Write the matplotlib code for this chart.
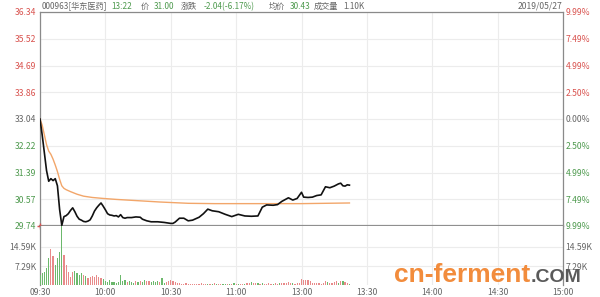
import matplotlib
matplotlib.use("Agg")
import matplotlib.pyplot as plt

plt.rcParams['font.family'] = ['Noto Sans CJK SC', 'DejaVu Sans']

# ---------------- data ----------------
time_ticks = [0, 30, 60, 90, 120, 150, 180, 210, 240]
time_labels = ["09:30", "10:00", "10:30", "11:00", "13:00", "13:30", "14:00", "14:30", "15:00"]

price_ticks = [36.34, 35.52, 34.69, 33.86, 33.04, 32.22, 31.39, 30.57, 29.74]
pct_labels = ["9.99%", "7.49%", "4.99%", "2.50%", "0.00%", "2.50%", "4.99%", "7.49%", "9.99%"]
prev_close = 33.04

vol_ticks = [7.29, 14.59]
vol_tick_labels = ["7.29K", "14.59K"]

price_min = [0, 1, 2, 3, 4, 5, 6, 7, 8, 9, 10, 11, 12, 13, 14, 15, 16, 17, 18, 19,
             20, 21, 22, 23, 24, 25, 26, 27, 28, 29, 30, 31, 32, 33, 34, 35, 36, 37,
             38, 39, 40, 42, 44, 46, 47, 49, 51, 54, 57, 60, 61, 62, 64, 66, 68, 70,
             73, 75, 77, 79, 82, 85, 88, 91, 94, 97, 100, 102, 104, 107, 109, 111,
             114, 116, 118, 120, 121, 123, 125, 127, 129, 131, 133, 135, 137, 138,
             139, 140, 141, 142]
price_val = [33.04, 32.55, 32.00, 31.45, 31.12, 31.20, 31.14, 31.20, 30.98, 30.25,
             29.76, 30.03, 30.06, 30.12, 30.22, 30.30, 30.18, 30.04, 29.95, 29.92,
             29.88, 29.87, 29.89, 29.93, 30.05, 30.20, 30.30, 30.38, 30.45, 30.35,
             30.24, 30.12, 30.08, 30.07, 30.05, 30.06, 30.02, 30.09, 30.00, 29.98,
             30.00, 30.00, 30.02, 30.01, 29.95, 29.90, 29.87, 29.87, 29.85, 29.82,
             29.82, 29.86, 29.98, 29.98, 29.90, 29.92, 30.01, 30.12, 30.26, 30.21,
             30.18, 30.10, 30.03, 30.10, 30.05, 30.04, 30.05, 30.32, 30.39, 30.38,
             30.40, 30.50, 30.61, 30.54, 30.59, 30.78, 30.63, 30.62, 30.63, 30.68,
             30.70, 30.95, 30.92, 30.97, 31.04, 31.06, 30.98, 30.97, 31.01, 31.00]

avg_min = [0, 1, 2, 3, 4, 5, 6, 7, 8, 9, 10, 11, 12, 14, 17, 20, 24, 29, 35, 45,
           55, 68, 80, 100, 120, 142]
avg_val = [33.04, 32.85, 32.55, 32.25, 32.05, 31.95, 31.80, 31.62, 31.42, 31.18,
           30.98, 30.90, 30.86, 30.80, 30.72, 30.66, 30.62, 30.59, 30.56, 30.52,
           30.48, 30.44, 30.43, 30.43, 30.43, 30.45]

# volume per minute (K), minutes 0..142
volume = [4.0, 4.5, 5.0, 6.4, 10.2, 13.8, 11.3, 7.7, 10.2, 12.8,
          25.0, 11.5, 7.7, 5.1, 3.2, 5.1, 5.4, 4.5, 3.8, 4.5,
          4.0, 3.6, 2.8, 3.2, 3.6, 3.2, 3.8, 3.2, 2.6, 2.2,
          1.5, 1.3, 1.9, 1.2, 1.3, 0.8, 1.0, 3.8, 1.5, 1.8,
          1.0, 1.6, 1.2, 0.8, 1.4, 1.0, 1.5, 1.2, 1.8, 1.5,
          1.7, 1.2, 1.6, 1.0, 1.4, 1.0, 2.5, 0.8, 1.2, 1.6,
          1.8, 1.5, 1.0, 0.7, 0.6, 0.5, 0.4, 0.6, 0.4, 0.3,
          0.4, 0.5, 0.3, 0.4, 0.6, 0.3, 0.4, 0.5, 0.3, 0.4,
          0.6, 0.4, 0.3, 0.5, 0.4, 0.3, 0.5, 0.4, 0.3, 0.6,
          0.5, 0.4, 0.3, 0.5, 0.4, 0.6, 0.8, 1.0, 0.7, 0.8,
          0.6, 0.5, 0.7, 0.4, 0.5, 0.6, 0.4, 0.5, 0.6, 0.5,
          0.8, 0.6, 0.7, 0.9, 1.0, 0.8, 0.6, 0.5, 0.7, 0.6,
          2.2, 2.0, 2.0, 1.8, 1.5, 0.7, 0.6, 0.8, 0.6, 0.5,
          0.7, 1.4, 1.2, 0.6, 0.8, 1.2, 1.5, 0.8, 1.4, 1.6,
          1.0, 0.6, 0.5]
vol_dir = ("ggggg" "rrggg" "grrrr" "rgggg" "rgrrr" "rrrrg" "ggggg" "ggggg"
           "rgggr" "grggr" "rgggg" "rggrr" "rrrrr" "rrrrr" "rrrrr" "rrgrg"
           "rgrrg" "grgrg" "rgrrg" "rrgrr" "grgrr" "rrgrr" "grrrr" "rgrrr"
           "rrrrr" "rrrrr" "rrgrr" "rrgrg" "rrg")

# ---------------- style ----------------
RED = "#d9534f"
GREEN = "#4e9a4e"
GRAY = "#666666"
GRID = "#ececec"
VRED = "#e88a8a"
VGREEN = "#6cb86c"
FS = 6.2

W, H = 600, 297
fig = plt.figure(figsize=(W / 100, H / 100), dpi=100)

L, R = 40, 563
P_TOP, P_BOT = 12, 226
V_TOP, V_BOT = 226, 285

axp = fig.add_axes([L / W, 1 - P_BOT / H, (R - L) / W, (P_BOT - P_TOP) / H])
axv = fig.add_axes([L / W, 1 - V_BOT / H, (R - L) / W, (V_BOT - V_TOP) / H])

for ax in (axp, axv):
    ax.set_xlim(0, 240)
    ax.set_xticks(time_ticks)
    ax.grid(True, color=GRID, linewidth=0.8)
    ax.set_axisbelow(True)
    for s in ("left", "right"):
        ax.spines[s].set_color("#8a8a8a")
        ax.spines[s].set_linewidth(0.9)
    ax.tick_params(length=0)

# price panel
axp.set_ylim(price_ticks[-1], price_ticks[0])
axp.set_yticks(price_ticks)
axp.set_xticklabels([])
axp.spines["top"].set_color("#8a8a8a")
axp.spines["top"].set_linewidth(0.9)
axp.spines["bottom"].set_color("#8f8f8f")
axp.spines["bottom"].set_linewidth(1.6)
axp.set_yticklabels([f"{v:.2f}" for v in price_ticks], fontsize=FS)
for lab, v in zip(axp.get_yticklabels(), price_ticks):
    lab.set_color(RED if v > prev_close + 1e-6 else (GREEN if v < prev_close - 1e-6 else GRAY))
axp.tick_params(axis="y", pad=2.5)

axp.plot(avg_min, avg_val, color="#f2a66a", linewidth=1.0, zorder=3)
axp.plot(price_min, price_val, color="#111111", linewidth=1.2, zorder=4)
axp.plot([0], [price_ticks[-1]], marker="+", color=RED, markersize=4,
         markeredgewidth=1, clip_on=False, zorder=5)

axr = axp.twinx()
axr.set_ylim(price_ticks[-1], price_ticks[0])
axr.set_yticks(price_ticks)
axr.set_yticklabels(pct_labels, fontsize=FS)
for i, lab in enumerate(axr.get_yticklabels()):
    lab.set_color(RED if i < 4 else (GRAY if i == 4 else GREEN))
axr.tick_params(length=0, pad=2)
for s in axr.spines.values():
    s.set_visible(False)

# volume panel
vmax = 14.59 * (V_BOT - V_TOP) / 38.0
axv.set_ylim(0, vmax)
axv.set_yticks(vol_ticks)
axv.set_yticklabels(vol_tick_labels, fontsize=FS, color=GRAY)
axv.tick_params(axis="y", pad=2.5)
axv.spines["top"].set_visible(False)
axv.spines["bottom"].set_visible(False)
vx = list(range(len(volume)))
vcol = [VRED if d == "r" else VGREEN for d in vol_dir[:len(volume)]]
axv.bar(vx, volume, width=0.55, color=vcol, linewidth=0, zorder=3)
axv.set_xticklabels(time_labels, fontsize=FS, color=GRAY)
axv.tick_params(axis="x", pad=2)

axvr = axv.twinx()
axvr.set_ylim(0, vmax)
axvr.set_yticks(vol_ticks)
axvr.set_yticklabels(vol_tick_labels, fontsize=FS, color=GRAY)
axvr.tick_params(length=0, pad=2)
for s in axvr.spines.values():
    s.set_visible(False)

# header
hy = 1 - 6.5 / H
hdr = [
    (42, "000963[华东医药]", GRAY),
    (111, "13:22", GREEN),
    (141, "价", GRAY),
    (154, "31.00", GREEN),
    (181, "涨跌", GRAY),
    (204, "-2.04(-6.17%)", GREEN),
    (269, "均价", GRAY),
    (290, "30.43", GREEN),
    (314, "成交量", GRAY),
    (343, "1.10K", GRAY),
]
for x, t, c in hdr:
    fig.text(x / W, hy, t, fontsize=5.9, color=c, ha="left", va="center")
fig.text(562 / W, hy, "2019/05/27", fontsize=FS, color=GRAY, ha="right", va="center")

# watermark
fig.text(394 / W, 1 - 282 / H, "cn-ferment", fontsize=19, fontweight="bold",
         color="#f28c3c", family="Liberation Sans", ha="left", va="baseline")
fig.text(531 / W, 1 - 282 / H, ".COM", fontsize=14, fontweight="bold",
         color="#5a5a5a", family="Liberation Sans", ha="left", va="baseline")

fig.savefig("out.png", dpi=100)
